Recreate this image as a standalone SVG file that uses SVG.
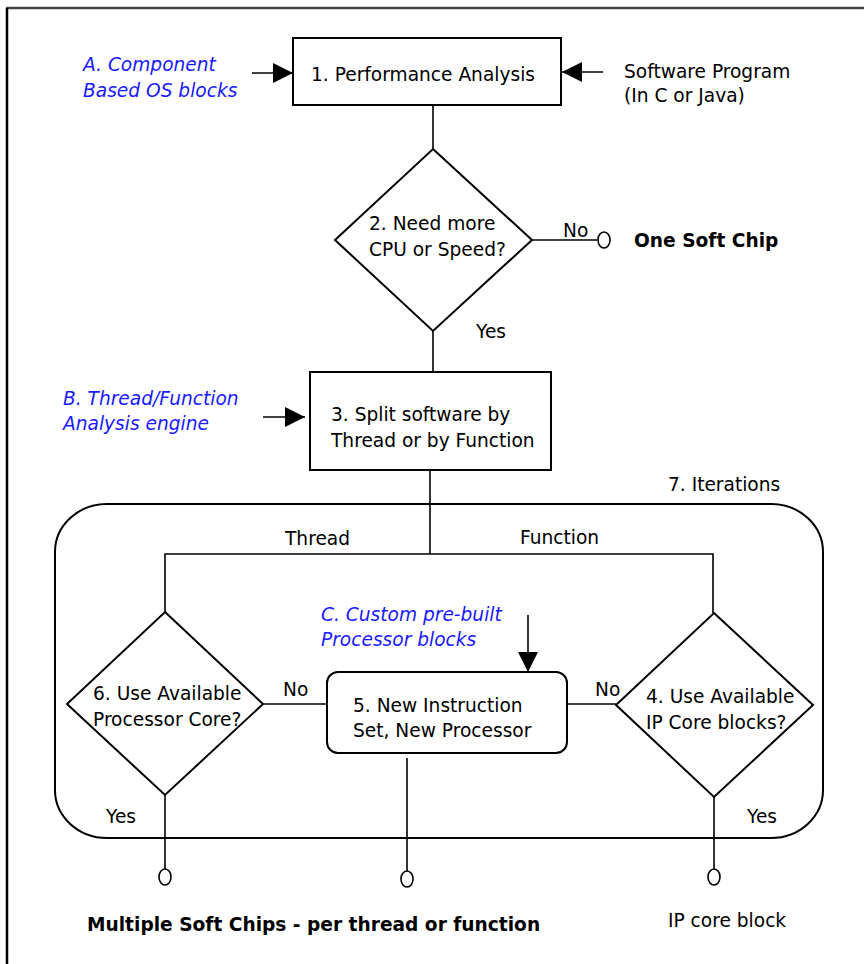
<svg xmlns="http://www.w3.org/2000/svg" width="864" height="964" viewBox="0 0 864 964">
<style>
text{font-family:"DejaVu Sans","Liberation Sans",sans-serif;font-size:18.6px;fill:#000}
.note{font-style:italic;fill:#1a1aff}
.b{font-weight:bold}
.shape{fill:#fff;stroke:#000;stroke-width:2}
.ln{fill:none;stroke:#000;stroke-width:1.6}
.term{fill:#fff;stroke:#000;stroke-width:1.6}
</style>
<defs>
<marker id="ah" viewBox="0 0 20 20" refX="20" refY="10" markerWidth="20" markerHeight="20" markerUnits="userSpaceOnUse" orient="auto">
<path d="M0,0 L20,10 L0,20 Z" fill="#000"/>
</marker>
</defs>
<rect x="0" y="0" width="864" height="964" fill="#fff"/>
<g id="frame">
<line x1="6" y1="8" x2="864" y2="8" stroke="#444" stroke-width="2.5"/>
<line x1="7" y1="8" x2="7" y2="964" stroke="#000" stroke-width="2.5"/>
</g>
<g id="iterations">
<rect x="55" y="504" width="768" height="334" rx="52" ry="48" fill="none" stroke="#000" stroke-width="2"/>
<text x="668" y="491">7. Iterations</text>
</g>
<g id="connectors">
<line class="ln" x1="433" y1="105" x2="433" y2="149"/>
<line class="ln" x1="532" y1="240" x2="597" y2="240"/>
<line class="ln" x1="433" y1="331" x2="433" y2="372"/>
<line class="ln" x1="430" y1="471" x2="430" y2="554"/>
<polyline class="ln" points="165,612 165,554 713,554 713,613"/>
<line class="ln" x1="263" y1="704" x2="327" y2="704"/>
<line class="ln" x1="567" y1="704" x2="616" y2="704"/>
<line class="ln" x1="165" y1="795" x2="165" y2="869"/>
<line class="ln" x1="407" y1="758" x2="407" y2="871"/>
<line class="ln" x1="714" y1="797" x2="714" y2="869"/>
<line class="ln" x1="252" y1="73" x2="293" y2="73" marker-end="url(#ah)"/>
<line class="ln" x1="603" y1="72" x2="562" y2="72" marker-end="url(#ah)"/>
<line class="ln" x1="263" y1="417" x2="305" y2="417" marker-end="url(#ah)"/>
<line class="ln" x1="528" y1="615" x2="528" y2="672" marker-end="url(#ah)"/>
<text x="563" y="237">No</text>
<text x="476" y="338">Yes</text>
<text x="285" y="545">Thread</text>
<text x="520" y="544">Function</text>
<text x="283" y="696">No</text>
<text x="595" y="696">No</text>
<text x="106" y="823">Yes</text>
<text x="747" y="823">Yes</text>
</g>
<g id="n1">
<rect class="shape" x="293" y="38" width="268" height="67"/>
<text x="311" y="81">1. Performance Analysis</text>
</g>
<g id="noteA">
<text class="note" x="83" y="71">A. Component</text>
<text class="note" x="83" y="97">Based OS blocks</text>
</g>
<g id="software">
<text x="624" y="78">Software Program</text>
<text x="624" y="102">(In C or Java)</text>
</g>
<g id="n2">
<polygon class="shape" points="433,149 532,240 433,331 335,240"/>
<text x="369" y="230">2. Need more</text>
<text x="369" y="256">CPU or Speed?</text>
</g>
<g id="oneSoftChip">
<ellipse class="term" cx="604" cy="240" rx="6" ry="8"/>
<text class="b" x="634" y="247">One Soft Chip</text>
</g>
<g id="n3">
<rect class="shape" x="310" y="372" width="241" height="98"/>
<text x="331" y="421">3. Split software by</text>
<text x="331" y="447">Thread or by Function</text>
</g>
<g id="noteB">
<text class="note" x="63" y="405">B. Thread/Function</text>
<text class="note" x="63" y="430">Analysis engine</text>
</g>
<g id="noteC">
<text class="note" x="321" y="621">C. Custom pre-built</text>
<text class="note" x="321" y="646">Processor blocks</text>
</g>
<g id="n6">
<polygon class="shape" points="165,612 263,704 165,795 67,704"/>
<text x="93" y="700">6. Use Available</text>
<text x="93" y="726">Processor Core?</text>
</g>
<g id="n5">
<rect class="shape" x="327" y="672" width="240" height="81" rx="11" ry="11"/>
<text x="353" y="712">5. New Instruction</text>
<text x="353" y="737">Set, New Processor</text>
</g>
<g id="n4">
<polygon class="shape" points="714,613 813,705 714,797 616,705"/>
<text x="646" y="703">4. Use Available</text>
<text x="646" y="729">IP Core blocks?</text>
</g>
<g id="out6">
<ellipse class="term" cx="165" cy="877" rx="6" ry="8"/>
</g>
<g id="out5">
<ellipse class="term" cx="407" cy="879" rx="6" ry="8"/>
</g>
<g id="out4">
<ellipse class="term" cx="714" cy="877" rx="6" ry="8"/>
</g>
<g id="labels">
<text class="b" x="87" y="931">Multiple Soft Chips - per thread or function</text>
<text x="668" y="927">IP core block</text>
</g>
</svg>
